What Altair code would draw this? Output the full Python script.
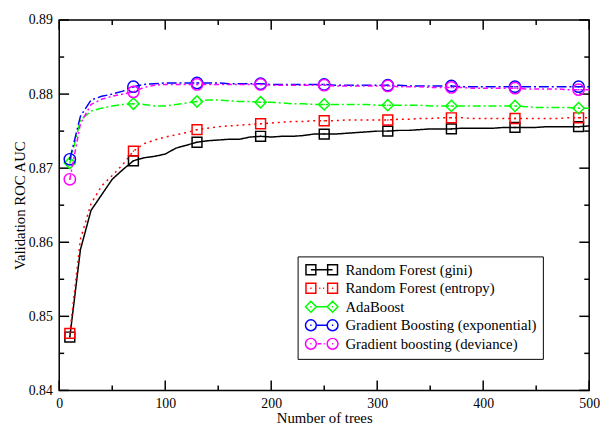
import altair as alt
import pandas as pd

# ---------------- data ----------------
trees = [10, 20, 30, 40, 50, 60, 70, 80, 90, 100,
         110, 120, 130, 140, 150, 160, 170, 180, 190, 200,
         210, 220, 230, 240, 250, 260, 270, 280, 290, 300,
         310, 320, 330, 340, 350, 360, 370, 380, 390, 400,
         410, 420, 430, 440, 450, 460, 470, 480, 490, 500]

marker_trees = [10, 70, 130, 190, 250, 310, 370, 430, 490]

series_names = ["Random Forest (gini)", "Random Forest (entropy)", "AdaBoost",
                "Gradient Boosting (exponential)", "Gradient boosting (deviance)"]

rf_gini = [0.8472, 0.8590, 0.8643, 0.8664, 0.8685, 0.8698, 0.8710, 0.8714, 0.8716, 0.8719,
           0.8727, 0.8731, 0.8735, 0.8737, 0.8738, 0.8739, 0.8739, 0.8742, 0.8743, 0.8742,
           0.8743, 0.8743, 0.8744, 0.8746, 0.8746, 0.8746, 0.8747, 0.8748, 0.8749, 0.8750,
           0.8750, 0.8751, 0.8751, 0.8752, 0.8753, 0.8753, 0.8753, 0.8754, 0.8754, 0.8754,
           0.8754, 0.8755, 0.8755, 0.8755, 0.8755, 0.8756, 0.8756, 0.8756, 0.8756, 0.8757]

rf_entropy = [0.8477, 0.8604, 0.8652, 0.8676, 0.8690, 0.8705, 0.8723, 0.8733, 0.8738, 0.8742,
              0.8745, 0.8748, 0.8752, 0.8754, 0.8756, 0.8757, 0.8758, 0.8759, 0.8760, 0.8761,
              0.8762, 0.8763, 0.8763, 0.8764, 0.8764, 0.8764, 0.8765, 0.8765, 0.8765, 0.8765,
              0.8765, 0.8766, 0.8766, 0.8767, 0.8767, 0.8768, 0.8768, 0.8768, 0.8767, 0.8767,
              0.8767, 0.8767, 0.8767, 0.8767, 0.8767, 0.8767, 0.8767, 0.8768, 0.8768, 0.8768]

adaboost = [0.8707, 0.8765, 0.8777, 0.8781, 0.8784, 0.8786, 0.8787, 0.8786, 0.8784, 0.8784,
            0.8786, 0.8788, 0.8790, 0.8792, 0.8792, 0.8791, 0.8790, 0.8790, 0.8789, 0.8789,
            0.8788, 0.8787, 0.8787, 0.8786, 0.8786, 0.8786, 0.8786, 0.8786, 0.8786, 0.8785,
            0.8785, 0.8785, 0.8785, 0.8785, 0.8784, 0.8784, 0.8784, 0.8784, 0.8784, 0.8784,
            0.8784, 0.8784, 0.8784, 0.8783, 0.8782, 0.8782, 0.8782, 0.8782, 0.8781, 0.8781]

gb_exponential = [0.8712, 0.8770, 0.8792, 0.8797, 0.8800, 0.8804, 0.8810, 0.8813, 0.8814, 0.8815,
                  0.8815, 0.8815, 0.8815, 0.8815, 0.8815, 0.8814, 0.8814, 0.8814, 0.8814, 0.8813,
                  0.8813, 0.8813, 0.8813, 0.8813, 0.8813, 0.8812, 0.8812, 0.8812, 0.8812, 0.8812,
                  0.8812, 0.8812, 0.8811, 0.8811, 0.8811, 0.8811, 0.8811, 0.8810, 0.8810, 0.8810,
                  0.8810, 0.8810, 0.8810, 0.8810, 0.8810, 0.8810, 0.8810, 0.8810, 0.8810, 0.8810]

gb_deviance = [0.8685, 0.8760, 0.8786, 0.8793, 0.8797, 0.8800, 0.8803, 0.8809, 0.8812, 0.8813,
               0.8813, 0.8813, 0.8813, 0.8813, 0.8813, 0.8813, 0.8813, 0.8813, 0.8813, 0.8812,
               0.8812, 0.8812, 0.8812, 0.8812, 0.8812, 0.8811, 0.8811, 0.8811, 0.8811, 0.8811,
               0.8811, 0.8810, 0.8810, 0.8810, 0.8809, 0.8809, 0.8809, 0.8809, 0.8808, 0.8808,
               0.8808, 0.8808, 0.8808, 0.8807, 0.8807, 0.8807, 0.8807, 0.8806, 0.8806, 0.8806]

x_major = [0, 100, 200, 300, 400, 500]
x_minor = [50, 150, 250, 350, 450]
y_major = [0.84, 0.85, 0.86, 0.87, 0.88, 0.89]
y_minor = [0.845, 0.855, 0.865, 0.875, 0.885]

# ---------------- styles ----------------
colors = ["#000000", "#ff0000", "#00ff00", "#0000ff", "#ff00ff"]
dashes = [[1, 0], [2, 4], [8, 3, 2, 3], [10, 3, 2, 3], [5, 3, 2, 3]]

SQ = "M-1,-1H1V1H-1Z M-0.12,0H0.12"
CI = "M1,0A1,1,0,1,1,-1,0A1,1,0,1,1,1,0Z M-0.12,0H0.12"
DI = "M0,-1L1,0L0,1L-1,0Z M-0.12,0H0.12"
marker_shapes = [SQ, SQ, DI, CI, CI]
marker_sizes = [100, 100, 130, 132, 132]

# legend sample glyphs (unit = sqrt(symbolSize)/2 px): marker - line - marker
sqL = "M-0.909,-0.909H0.909V0.909H-0.909Z"
sqR = "M3.091,-0.909H4.909V0.909H3.091Z"
diL = "M-1,0L0,-1L1,0L0,1Z"
diR = "M3,0L4,-1L5,0L4,1Z"
ciL = "M1,0A1,1,0,1,1,-1,0A1,1,0,1,1,1,0Z"
ciR = "M5,0A1,1,0,1,1,3,0A1,1,0,1,1,5,0Z"
cdots = "M-0.12,0H0.12 M3.88,0H4.12"
legend_paths = [
    " ".join([sqL, sqR, "M0,0H4"]),
    " ".join([sqL, sqR, cdots, "M1.55,0H1.75 M2.25,0H2.45"]),
    " ".join([diL, diR, cdots, "M1,0H3"]),
    " ".join([ciL, ciR, cdots, "M1,0H3"]),
    " ".join([ciL, ciR, cdots, "M1.25,0H1.95 M2.35,0H2.55"]),
]

FONT = "Liberation Serif"
W, H = 538, 376

values = [rf_gini, rf_entropy, adaboost, gb_exponential, gb_deviance]
rows = []
for name, vals in zip(series_names, values):
    for t, v in zip(trees, vals):
        rows.append({"series": name, "trees": t, "auc": v})
df = pd.DataFrame(rows)

xscale = alt.Scale(domain=[0, 500], nice=False, zero=False)
yscale = alt.Scale(domain=[0.84, 0.89], nice=False, zero=False)

xaxis = alt.Axis(values=x_major, format="d", ticks=False, domain=False, grid=False,
                 labelFont=FONT, labelFontSize=14, labelColor="black", labelPadding=6,
                 labelFlush=False, labelOverlap=False,
                 title="Number of trees", titleFont=FONT, titleFontSize=15,
                 titleFontWeight="normal", titleColor="black",
                 titleBaseline="alphabetic", titleY=33)
yaxis = alt.Axis(values=y_major, format=".2f", ticks=False, domain=False, grid=False,
                 labelFont=FONT, labelFontSize=14, labelColor="black", labelPadding=7,
                 labelFlush=False, labelOverlap=False,
                 title="Validation ROC AUC", titleFont=FONT, titleFontSize=15,
                 titleFontWeight="normal", titleColor="black",
                 titleBaseline="alphabetic", titleAngle=270, titleX=-35, titleY=H / 2)


def X(f):
    return alt.X(f, type="quantitative", scale=xscale, axis=xaxis)


def Y(f):
    return alt.Y(f, type="quantitative", scale=yscale, axis=yaxis)


layers = []

# inward ticks on all four sides
tick_style = dict(color="black", strokeWidth=1.5)
for vals, ln in [(x_major, 10), (x_minor, 5)]:
    d = pd.DataFrame({"t": vals})
    layers.append(alt.Chart(d).mark_rule(**tick_style).encode(
        x=X("t"), y=alt.value(H), y2=alt.value(H - ln)))
    layers.append(alt.Chart(d).mark_rule(**tick_style).encode(
        x=X("t"), y=alt.value(0), y2=alt.value(ln)))
for vals, ln in [(y_major, 10), (y_minor, 5)]:
    d = pd.DataFrame({"t": vals})
    layers.append(alt.Chart(d).mark_rule(**tick_style).encode(
        y=Y("t"), x=alt.value(0), x2=alt.value(ln)))
    layers.append(alt.Chart(d).mark_rule(**tick_style).encode(
        y=Y("t"), x=alt.value(W), x2=alt.value(W - ln)))

# series lines and markers
for name, c, dsh, shp, sz in zip(series_names, colors, dashes, marker_shapes, marker_sizes):
    base = alt.Chart(df).transform_filter(alt.datum.series == name)
    layers.append(base.mark_line(color=c, strokeDash=dsh, strokeWidth=1.5).encode(
        x=X("trees"), y=Y("auc")))
    layers.append(base.transform_filter(
        alt.FieldOneOfPredicate(field="trees", oneOf=marker_trees)
    ).mark_point(shape=shp, color=c, filled=False, size=sz, strokeWidth=1.5, opacity=1).encode(
        x=X("trees"), y=Y("auc")))

# legend-only layer
leg = alt.Legend(orient="none", legendX=242, legendY=240, title=None,
                 padding=6, strokeColor="black", fillColor="white",
                 rowPadding=1.8, labelOffset=27.5,
                 labelFont=FONT, labelFontSize=15, labelColor="black", labelLimit=400,
                 symbolSize=121, symbolStrokeWidth=1.5)
layers.append(alt.Chart(df).transform_filter("false").mark_point(
    filled=False, strokeWidth=1.5, opacity=1).encode(
    color=alt.Color("series:N", scale=alt.Scale(domain=series_names, range=colors), legend=leg),
    shape=alt.Shape("series:N", scale=alt.Scale(domain=series_names, range=legend_paths), legend=leg),
))

chart = alt.layer(*layers).properties(
    width=W, height=H,
    padding={"left": 52, "top": 9, "right": 12, "bottom": 36},
    autosize=alt.AutoSizeParams(type="none"),
    background="white",
).configure_view(stroke="black", strokeWidth=1.5)

chart.save("out.html", embed_options={"renderer": "svg", "actions": False})
